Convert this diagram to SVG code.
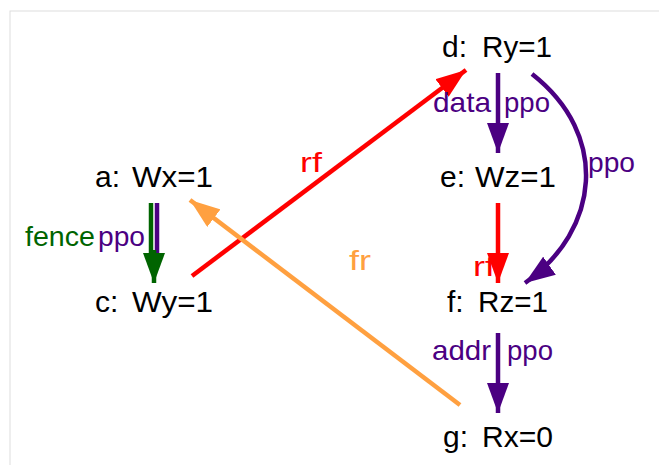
<svg xmlns="http://www.w3.org/2000/svg" width="659" height="465" viewBox="0 0 659 465">
<defs>
<style>
.n{font-family:"Liberation Sans",Arial,sans-serif;font-size:30px;fill:#000}
.l{font-family:"Liberation Sans",Arial,sans-serif;font-size:28px}
.e{fill:none;stroke-width:4.5}
</style>
<marker id="hp" viewBox="0 0 30 22" refX="30" refY="11" markerWidth="30" markerHeight="22" markerUnits="userSpaceOnUse" orient="auto"><path d="M0,0L30,11L0,22z" fill="#4b0082"/></marker>
<marker id="hr" viewBox="0 0 30 22" refX="30" refY="11" markerWidth="30" markerHeight="22" markerUnits="userSpaceOnUse" orient="auto"><path d="M0,0L30,11L0,22z" fill="#ff0000"/></marker>
<marker id="hg" viewBox="0 0 30 22" refX="30" refY="11" markerWidth="30" markerHeight="22" markerUnits="userSpaceOnUse" orient="auto"><path d="M0,0L30,11L0,22z" fill="#006400"/></marker>
<marker id="ho" viewBox="0 0 30 22" refX="30" refY="11" markerWidth="30" markerHeight="22" markerUnits="userSpaceOnUse" orient="auto"><path d="M0,0L30,11L0,22z" fill="#ffa040"/></marker>
</defs>
<rect x="10" y="11" width="660" height="470" fill="#fff" stroke="#dddddd" stroke-width="1"/>
<g id="connectors">
<line class="e" x1="157" y1="203" x2="157" y2="262" stroke="#4b0082"/>
<line class="e" x1="151" y1="203" x2="151" y2="262" stroke="#006400"/>
<line class="e" x1="154" y1="250" x2="154" y2="283" stroke="#006400" marker-end="url(#hg)"/>
<line class="e" x1="192" y1="276" x2="466" y2="70" stroke="#ff0000" marker-end="url(#hr)"/>
<line class="e" x1="460" y1="405" x2="190" y2="200" stroke="#ffa040" marker-end="url(#ho)"/>
<line class="e" x1="498" y1="73" x2="498" y2="153" stroke="#4b0082" marker-end="url(#hp)"/>
<line class="e" x1="498" y1="203" x2="498" y2="283" stroke="#ff0000" marker-end="url(#hr)"/>
<path class="e" d="M532,74 C610,135 600,230 525,283" stroke="#4b0082" marker-end="url(#hp)"/>
<line class="e" x1="498" y1="333" x2="498" y2="413" stroke="#4b0082" marker-end="url(#hp)"/>
<text class="l" x="25" y="246" textLength="70" lengthAdjust="spacingAndGlyphs" fill="#006400">fence</text>
<text class="l" x="98" y="246" textLength="47" lengthAdjust="spacingAndGlyphs" fill="#4b0082">ppo</text>
<text class="l" x="300" y="172" textLength="22" lengthAdjust="spacingAndGlyphs" fill="#ff0000">rf</text>
<text class="l" x="349" y="270" textLength="22" lengthAdjust="spacingAndGlyphs" fill="#ffa040">fr</text>
<text class="l" x="433" y="112" textLength="58" lengthAdjust="spacingAndGlyphs" fill="#4b0082">data</text>
<text class="l" x="504" y="112" textLength="46" lengthAdjust="spacingAndGlyphs" fill="#4b0082">ppo</text>
<text class="l" x="588" y="172" textLength="47" lengthAdjust="spacingAndGlyphs" fill="#4b0082">ppo</text>
<text class="l" x="473" y="276" textLength="22" lengthAdjust="spacingAndGlyphs" fill="#ff0000">rf</text>
<text class="l" x="432" y="360" textLength="59" lengthAdjust="spacingAndGlyphs" fill="#4b0082">addr</text>
<text class="l" x="507" y="360" textLength="46" lengthAdjust="spacingAndGlyphs" fill="#4b0082">ppo</text>
</g>
<g id="a"><text class="n" y="187"><tspan x="95">a:</tspan><tspan x="132" textLength="81" lengthAdjust="spacingAndGlyphs">Wx=1</tspan></text></g>
<g id="c"><text class="n" y="312"><tspan x="95">c:</tspan><tspan x="132" textLength="81" lengthAdjust="spacingAndGlyphs">Wy=1</tspan></text></g>
<g id="d"><text class="n" y="57"><tspan x="442">d:</tspan><tspan x="482" textLength="70" lengthAdjust="spacingAndGlyphs">Ry=1</tspan></text></g>
<g id="e"><text class="n" y="187"><tspan x="440">e:</tspan><tspan x="475" textLength="81" lengthAdjust="spacingAndGlyphs">Wz=1</tspan></text></g>
<g id="f"><text class="n" y="312"><tspan x="447">f:</tspan><tspan x="478" textLength="70" lengthAdjust="spacingAndGlyphs">Rz=1</tspan></text></g>
<g id="g"><text class="n" y="447"><tspan x="443">g:</tspan><tspan x="482" textLength="71" lengthAdjust="spacingAndGlyphs">Rx=0</tspan></text></g>
</svg>
